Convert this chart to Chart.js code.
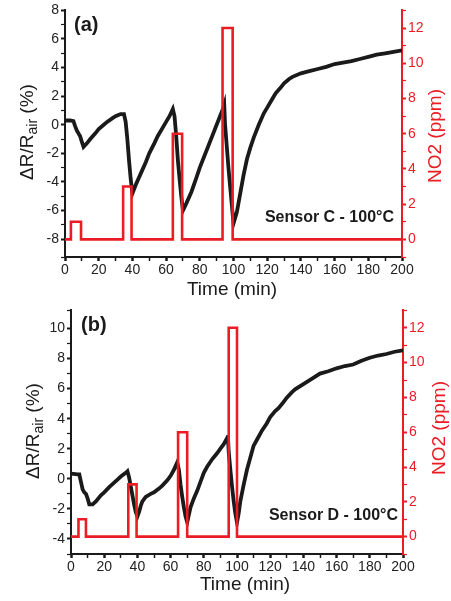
<!DOCTYPE html>
<html>
<head>
<meta charset="utf-8">
<script src="https://cdn.jsdelivr.net/npm/chart.js@4.4.1/dist/chart.umd.min.js"></script>
<style>
  html, body { margin: 0; padding: 0; background: #fff; }
  #wrap { position: relative; width: 451px; height: 601px; }
  #wrap canvas { position: absolute; left: 0; }
  #chartA { top: 0; }
  #chartB { top: 300px; }
</style>
</head>
<body>
<div id="wrap">
  <canvas id="chartA" width="451" height="300"></canvas>
  <canvas id="chartB" width="451" height="301"></canvas>
</div>
<script>
'use strict';

// ============================================================
// DATA – panel (a), Sensor C
// ============================================================
const timeA = [0, 3, 5, 6, 7, 8, 9, 10, 11, 13, 15, 18, 20, 23, 25, 28, 30, 33, 35,
  36, 37, 38, 39, 40, 42, 45, 48, 50, 53, 55, 58, 60, 62, 64,
  65, 66, 67, 68, 69, 70, 72, 75, 78, 80, 83, 85, 88, 90, 92, 94, 94.5,
  95, 96, 97, 98, 99, 100, 102, 104, 106, 108, 110, 112, 115, 118, 120, 123, 125, 128,
  130, 133, 135, 140, 145, 150, 155, 160, 165, 170, 175, 180, 185, 190, 195, 200];
const respA = [0.3, 0.3, 0.25, -0.1, -0.4, -0.6, -0.8, -1.2, -1.55, -1.3, -1.0, -0.6, -0.3, 0.0, 0.2, 0.45, 0.6, 0.75, 0.75,
  0.2, -1.0, -2.5, -3.8, -4.8, -4.2, -3.4, -2.6, -2.0, -1.3, -0.8, -0.2, 0.2, 0.6, 1.1,
  0.6, -0.8, -2.5, -3.8, -5.0, -6.0, -5.5, -4.7, -3.7, -3.0, -2.1, -1.5, -0.6, 0.0, 0.6, 1.2, 1.4,
  0.0, -1.5, -3.0, -4.3, -5.6, -6.9, -6.1, -4.8, -3.5, -2.4, -1.6, -0.9, 0.0, 0.8, 1.2, 1.8, 2.2, 2.6,
  2.9, 3.2, 3.35, 3.6, 3.75, 3.9, 4.05, 4.25, 4.35, 4.45, 4.6, 4.75, 4.9, 5.0, 5.1, 5.2];
const stepTimeA = [0, 3.5, 3.5, 9.5, 9.5, 34.5, 34.5, 39.5, 39.5, 64, 64, 69.5, 69.5, 93.5, 93.5, 99.5, 99.5, 200];
const no2A      = [0, 0,   1,   1,   0,   0,    3,    3,    0,    0,  6,  6,    0,    0,    12,   12,   0,    0];

// ============================================================
// DATA – panel (b), Sensor D
// ============================================================
const timeB = [0, 4, 5, 6, 7, 8, 9, 10, 11, 13, 15, 18, 20, 23, 25, 28, 30, 33, 34,
  35, 36, 37, 38, 39, 40, 41, 42, 43, 45, 48, 50, 53, 55, 58, 60, 62, 64,
  65, 66, 67, 68, 69, 70, 71, 72, 74, 76, 78, 80, 82, 85, 88, 90, 92, 94, 94.5,
  95, 96, 97, 98, 99, 100, 101, 102, 104, 106, 108, 110, 113, 115, 118, 120, 123, 125, 128,
  130, 133, 135, 140, 145, 150, 155, 160, 165, 170, 175, 180, 185, 190, 195, 200];
const respB = [0.35, 0.3, 0.3, -0.2, -0.7, -0.9, -1.0, -1.3, -1.7, -1.7, -1.5, -1.1, -0.9, -0.55, -0.35, -0.05, 0.15, 0.4, 0.5,
  0.1, -0.5, -1.1, -1.7, -2.2, -2.5, -2.2, -1.8, -1.5, -1.2, -1.0, -0.9, -0.65, -0.45, -0.1, 0.2, 0.6, 1.1,
  0.6, -0.4, -1.2, -1.9, -2.5, -2.9, -2.4, -1.9, -1.3, -0.8, -0.2, 0.4, 0.8, 1.3, 1.7, 2.0, 2.3, 2.7, 2.9,
  1.8, 0.6, -0.5, -1.5, -2.3, -2.9, -2.3, -1.5, -0.4, 0.6, 1.4, 2.2, 2.8, 3.2, 3.7, 4.1, 4.5, 4.7, 5.1,
  5.4, 5.75, 5.95, 6.3, 6.65, 7.0, 7.15, 7.35, 7.5, 7.6, 7.85, 8.05, 8.2, 8.3, 8.45, 8.55];
const stepTimeB = [0, 4.5, 4.5, 9, 9, 34.5, 34.5, 39.5, 39.5, 64.5, 64.5, 70, 70, 95, 95, 100, 100, 200];
const no2B      = [0, 0,   1,   1, 0, 0,    3,    3,    0,    0,    6,    6,  0,  0,  12, 12,  0,   0];

// ============================================================
// COMMON STYLE
// ============================================================
const FONT = "'Liberation Sans', Arial, Helvetica, sans-serif";
const BLACK = '#1a1a1a';
const RED = '#ec1c24';
Chart.defaults.font.family = FONT;

const toPoints = (xs, ys) => xs.map((x, i) => ({ x: x, y: ys[i] }));

// titles, panel tags and sensor label drawn on the canvas
const titlePlugin = {
  id: 'panelTitles',
  afterDraw(chart, args, o) {
    const ctx = chart.ctx;
    ctx.save();
    ctx.textBaseline = 'middle';

    // x title
    ctx.fillStyle = BLACK;
    ctx.font = `19px ${FONT}`;
    ctx.textAlign = 'center';
    ctx.fillText('Time (min)', o.xTitle[0], o.xTitle[1]);

    // left title with subscript
    ctx.save();
    ctx.translate(o.yTitle[0], o.yTitle[1]);
    ctx.rotate(-Math.PI / 2);
    const big = `19px ${FONT}`, small = `14px ${FONT}`;
    ctx.font = big;  const w1 = ctx.measureText('ΔR/R').width;
    ctx.font = small; const w2 = ctx.measureText('air').width;
    ctx.font = big;  const w3 = ctx.measureText(' (%)').width;
    let x = -(w1 + w2 + w3) / 2;
    ctx.textAlign = 'left';
    ctx.font = big;   ctx.fillText('ΔR/R', x, 0); x += w1;
    ctx.font = small; ctx.fillText('air', x, 5); x += w2;
    ctx.font = big;   ctx.fillText(' (%)', x, 0);
    ctx.restore();

    // right title
    ctx.save();
    ctx.translate(o.y2Title[0], o.y2Title[1]);
    ctx.rotate(-Math.PI / 2);
    ctx.fillStyle = RED;
    ctx.font = `19px ${FONT}`;
    ctx.textAlign = 'center';
    ctx.fillText('NO2 (ppm)', 0, 0);
    ctx.restore();

    // panel tag and sensor label
    ctx.fillStyle = BLACK;
    ctx.font = `bold 20px ${FONT}`;
    ctx.textAlign = 'left';
    ctx.fillText(o.tag, o.tagPos[0], o.tagPos[1]);
    ctx.font = `bold 16px ${FONT}`;
    ctx.textAlign = 'right';
    ctx.fillText(o.sensor, o.sensorPos[0], o.sensorPos[1]);
    ctx.restore();
  }
};

// ============================================================
// CHART BUILDER
// ============================================================
function buildPanel(canvasId, p) {
  const el = document.getElementById(canvasId);
  return new Chart(el, {
    type: 'line',
    data: {
      datasets: [
        {
          label: 'NO2', data: toPoints(p.stepTime, p.no2), yAxisID: 'y2',
          borderColor: RED, borderWidth: 2.6, pointRadius: 0, tension: 0, order: 0,
        },
        {
          label: 'ΔR/Rair', data: toPoints(p.time, p.resp), yAxisID: 'y',
          borderColor: BLACK, borderWidth: 3.8, pointRadius: 0, tension: 0, order: 1,
        }
      ]
    },
    options: {
      responsive: false, animation: false,
      layout: { padding: { top: p.padTop, left: 0, right: 0, bottom: 0 } },
      plugins: {
        legend: { display: false }, tooltip: { enabled: false },
        panelTitles: p.titles,
      },
      scales: {
        x: {
          type: 'linear', position: 'bottom', min: 0, max: 200,
          border: { color: BLACK, width: 2 },
          grid: { drawOnChartArea: false, tickLength: 4, color: BLACK,
                  tickWidth: c => (c.tick && c.tick.value % 20 === 0 ? 2.5 : 1.5) },
          ticks: { stepSize: 10, autoSkip: false, maxRotation: 0, minRotation: 0, padding: 1,
                   color: '#222', font: { size: 14 },
                   callback: v => (v % 20 === 0 ? v : '') },
          afterFit: s => { s.height = p.xHeight; },
        },
        y: {
          type: 'linear', position: 'left', min: p.yMin, max: p.yMax,
          border: { color: BLACK, width: 2 },
          grid: { drawOnChartArea: false, tickLength: 4, color: BLACK,
                  tickWidth: c => (c.tick && c.tick.value % 2 === 0 ? 2 : 1.2) },
          ticks: { stepSize: 1, autoSkip: false, padding: 2, color: '#222', font: { size: 14 },
                   callback: v => (Number.isInteger(v) && v % 2 === 0 ? v : '') },
          afterFit: s => { s.width = p.yWidth; },
        },
        y2: {
          type: 'linear', position: 'right', min: -1, max: 13,
          border: { color: RED, width: 2 },
          grid: { drawOnChartArea: false, tickLength: 4, color: RED,
                  tickWidth: c => (c.tick && c.tick.value % 2 === 0 ? 2 : 1.2) },
          ticks: { stepSize: 1, autoSkip: false, padding: 2, color: RED, font: { size: 14 },
                   callback: v => (Number.isInteger(v) && v % 2 === 0 && v >= 0 ? v : '') },
          afterFit: s => { s.width = p.y2Width; },
        }
      }
    },
    plugins: [titlePlugin]
  });
}

// ============================================================
// INIT
// ============================================================
buildPanel('chartA', {
  time: timeA, resp: respA, stepTime: stepTimeA, no2: no2A,
  yMin: -9.25, yMax: 8,
  padTop: 9, xHeight: 43, yWidth: 65, y2Width: 49,
  titles: {
    xTitle: [232, 290], yTitle: [28, 132], y2Title: [436, 136],
    tag: '(a)', tagPos: [74, 25], sensor: 'Sensor C - 100°C', sensorPos: [394, 218],
  }
});

buildPanel('chartB', {
  time: timeB, resp: respB, stepTime: stepTimeB, no2: no2B,
  yMin: -5, yMax: 11.2,
  padTop: 7, xHeight: 47, yWidth: 71, y2Width: 48,
  titles: {
    xTitle: [245, 285], yTitle: [34, 131], y2Title: [440, 128],
    tag: '(b)', tagPos: [81, 25], sensor: 'Sensor D - 100°C', sensorPos: [398, 216],
  }
});
</script>
</body>
</html>
